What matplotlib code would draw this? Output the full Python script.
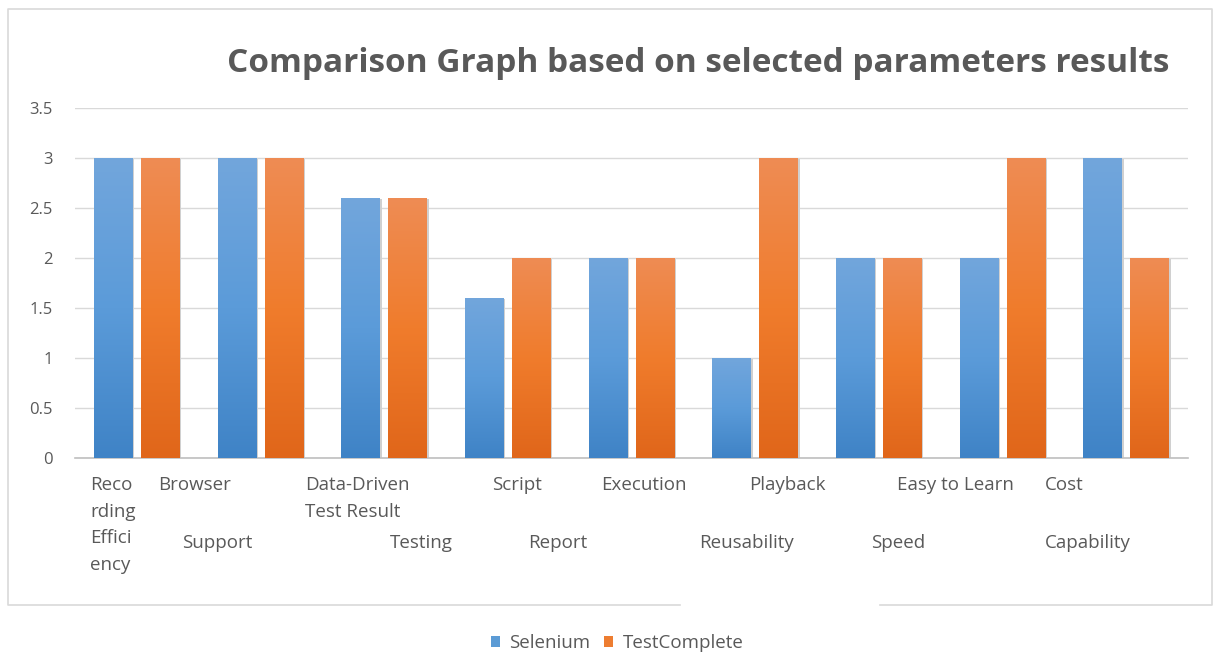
import matplotlib
matplotlib.use("Agg")
import matplotlib.pyplot as plt
import numpy as np
from matplotlib.lines import Line2D
from matplotlib.patches import Rectangle, Patch
from matplotlib.colors import LinearSegmentedColormap

plt.rcParams['font.family'] = ['Open Sans', 'DejaVu Sans']

categories = ["Recording Efficiency", "Browser Support", "Data-Driven Testing",
              "Test Result Report", "Script Execution", "Playback Reusability",
              "Speed", "Easy to Learn", "Cost Capability"]
selenium = [3, 3, 2.6, 1.6, 2, 1, 2, 2, 3]
testcomplete = [3, 3, 2.6, 2, 2, 3, 2, 3, 2]
series_names = ["Selenium", "TestComplete"]
yticks = [0, 0.5, 1, 1.5, 2, 2.5, 3, 3.5]
ytick_labels = ["0", "0.5", "1", "1.5", "2", "2.5", "3", "3.5"]
title = "Comparison Graph based on selected parameters results"

# label fragments as they appear scattered under the axis: (text, pixel x, row)
label_pieces = [
    ("Reco\nrding\nEffici\nency", 90, 0),
    ("Browser", 158, 0), ("Support", 182, 2),
    ("Data-Driven\nTest Result", 305, 0), ("Testing", 390, 2),
    ("Script", 492, 0), ("Report", 528, 2),
    ("Execution", 601, 0),
    ("Playback", 749, 0), ("Reusability", 699, 2),
    ("Speed", 871, 2),
    ("Easy to Learn", 897, 0),
    ("Cost", 1045, 0), ("Capability", 1045, 2),
]

W, H = 1214, 655
fig = plt.figure(figsize=(W / 100, H / 100), dpi=100)
fig.patch.set_facecolor("white")

ax_l, ax_r, ax_t, ax_b = 75, 1188, 108, 458
ax = fig.add_axes([ax_l / W, 1 - ax_b / H, (ax_r - ax_l) / W, (ax_b - ax_t) / H])
n = len(categories)

blue_cmap = LinearSegmentedColormap.from_list("b", ["#3f83c6", "#5b9bd9", "#72a6dc"])
orange_cmap = LinearSegmentedColormap.from_list("o", ["#e0661a", "#f07c2c", "#ee8c54"])

x = np.arange(n)
bw = 0.315
off = 0.19
grad = np.linspace(0, 1, 256).reshape(-1, 1)
for vals, sign, cmap, col in [(selenium, -1, blue_cmap, "#5b9bd5"),
                              (testcomplete, 1, orange_cmap, "#ed7d31")]:
    bars = ax.bar(x + sign * off, vals, width=bw, color=col, zorder=3)
    for b in bars:
        x0, w_, h_ = b.get_x(), b.get_width(), b.get_height()
        ax.add_patch(Rectangle((x0 + 0.012, 0), w_, h_ - 0.005, color="#d0d0d0",
                               zorder=2.5, lw=0))
        im = ax.imshow(grad, cmap=cmap, origin="lower", aspect="auto",
                       extent=(x0, x0 + w_, 0, h_), zorder=3.5)
        im.set_clip_path(b)
ax.set_xlim(-0.5, n - 0.5)
ax.set_ylim(0, 3.5)

ax.set_yticks(yticks)
ax.set_yticklabels(ytick_labels)
ax.tick_params(axis="y", length=0, pad=16, labelsize=12, labelcolor="#595959")
ax.set_xticks([])
ax.grid(axis="y", color="#d9d9d9", lw=1, zorder=0)
for s in ["top", "right", "left"]:
    ax.spines[s].set_visible(False)
ax.spines["bottom"].set_color("#bfbfbf")
ax.spines["bottom"].set_linewidth(1.2)

# category label fragments
row_y = {0: 476, 2: 534}
for txt, px, row in label_pieces:
    fig.text(px / W, 1 - row_y[row] / H, txt, ha="left", va="top",
             fontsize=13.5, color="#595959", linespacing=1.62)

# title
fig.text(698 / W, 1 - 64 / H, title, ha="center", va="center",
         fontsize=24, fontweight="bold", color="#595959")

# outer border with gap at the bottom
bc = "#d9d9d9"
def fl(xs, ys):
    fig.add_artist(Line2D([v / W for v in xs], [1 - v / H for v in ys],
                          color=bc, lw=1.2))
fl([680, 8, 8, 1212, 1212, 880], [605, 605, 9, 9, 605, 605])

# legend
handles = [Patch(facecolor="#5b9bd5"), Patch(facecolor="#ed7d31")]
leg = fig.legend(handles, series_names, loc="center", bbox_to_anchor=(617 / W, 1 - 643 / H),
                 ncol=2, frameon=False, fontsize=13.5, handlelength=0.5, handleheight=0.5,
                 handletextpad=0.5, columnspacing=0.7)
for t in leg.get_texts():
    t.set_color("#595959")

fig.savefig("out.png", dpi=100, facecolor="white")
